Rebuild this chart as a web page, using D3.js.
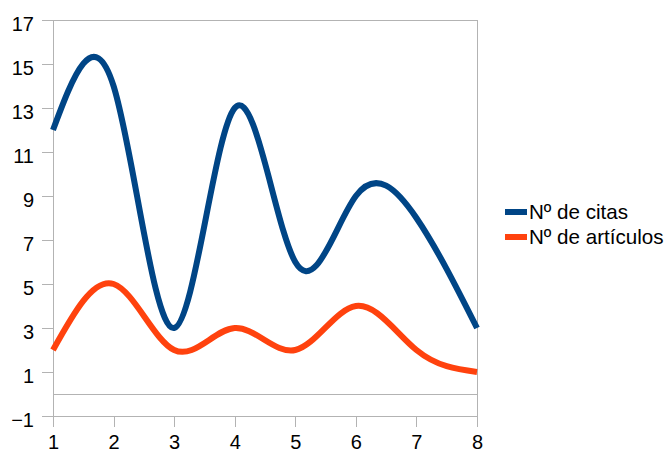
<!DOCTYPE html>
<html>
<head>
<meta charset="utf-8">
<script src="https://cdn.jsdelivr.net/npm/d3@7"></script>
<style>
  html, body { margin: 0; padding: 0; background: #fff; }
  svg { display: block; font-family: "Liberation Sans", Arial, sans-serif; }
</style>
</head>
<body>
<svg id="chart" width="667" height="454"></svg>
<script>
const xValues = [1, 2, 3, 4, 5, 6, 7, 8];
const citas = [12, 14, 3, 13, 6, 9, 8, 3];
const articulos = [2, 5, 2, 3, 2, 4, 2, 1];
const yTicks = [-1, 1, 3, 5, 7, 9, 11, 13, 15, 17];
const seriesNames = ["Nº de citas", "Nº de artículos"];
const seriesColors = ["#004586", "#ff420e"];

const svg = d3.select("#chart");
const mLeft = 53, mRight = 477, mTop = 20, mBottom = 416;

const x = d3.scaleLinear().domain([1, 8]).range([mLeft, mRight]);
const y = d3.scaleLinear().domain([-1, 17]).range([mBottom, mTop]);

const grid = "#b3b3b3";

// grid / frame lines
svg.append("line").attr("x1", mLeft).attr("x2", mRight).attr("y1", y(0)).attr("y2", y(0))
  .attr("stroke", grid).attr("stroke-width", 1).attr("shape-rendering", "crispEdges");
svg.append("line").attr("x1", mLeft).attr("x2", mRight).attr("y1", y(17)).attr("y2", y(17))
  .attr("stroke", grid).attr("stroke-width", 1).attr("shape-rendering", "crispEdges");
svg.append("line").attr("x1", x(8)).attr("x2", x(8)).attr("y1", mTop).attr("y2", mBottom)
  .attr("stroke", grid).attr("stroke-width", 1).attr("shape-rendering", "crispEdges");

// y axis
const yAxis = d3.axisLeft(y).tickValues(yTicks).tickSize(11).tickPadding(8).tickSizeOuter(0);
const gy = svg.append("g").attr("transform", `translate(${mLeft},0)`).call(yAxis);
gy.select(".domain").attr("stroke", grid).attr("shape-rendering", "crispEdges");
gy.selectAll(".tick line").attr("stroke", grid).attr("shape-rendering", "crispEdges");
gy.selectAll(".tick text").attr("font-size", 20).attr("fill", "#000")
  .attr("font-family", "Liberation Sans, Arial, sans-serif").attr("dy", "0.5em");

// x axis
const xAxis = d3.axisBottom(x).tickValues(xValues).tickFormat(d3.format("d"))
  .tickSize(11).tickPadding(10).tickSizeOuter(0);
const gx = svg.append("g").attr("transform", `translate(0,${mBottom})`).call(xAxis);
gx.select(".domain").attr("stroke", grid).attr("shape-rendering", "crispEdges");
gx.selectAll(".tick line").attr("stroke", grid).attr("shape-rendering", "crispEdges");
gx.selectAll(".tick text").attr("font-size", 20).attr("fill", "#000")
  .attr("font-family", "Liberation Sans, Arial, sans-serif")
  .attr("y", 0).attr("dy", 0).attr("transform", "translate(0,33)");

// lines
const line = d3.line().x((d, i) => x(xValues[i])).y(d => y(d)).curve(d3.curveNatural);
[citas, articulos].forEach((s, i) => {
  svg.append("path").datum(s).attr("d", line).attr("fill", "none")
    .attr("stroke", seriesColors[i]).attr("stroke-width", 6).attr("stroke-linejoin", "round");
});

// legend
const lg = svg.append("g");
seriesNames.forEach((name, i) => {
  const ly = 212 + i * 25;
  lg.append("line").attr("x1", 505).attr("x2", 527).attr("y1", ly).attr("y2", ly)
    .attr("stroke", seriesColors[i]).attr("stroke-width", 6);
  lg.append("text").attr("x", 529).attr("y", ly + 7).attr("font-size", 20.6)
    .attr("fill", "#000").text(name);
});
</script>
</body>
</html>
